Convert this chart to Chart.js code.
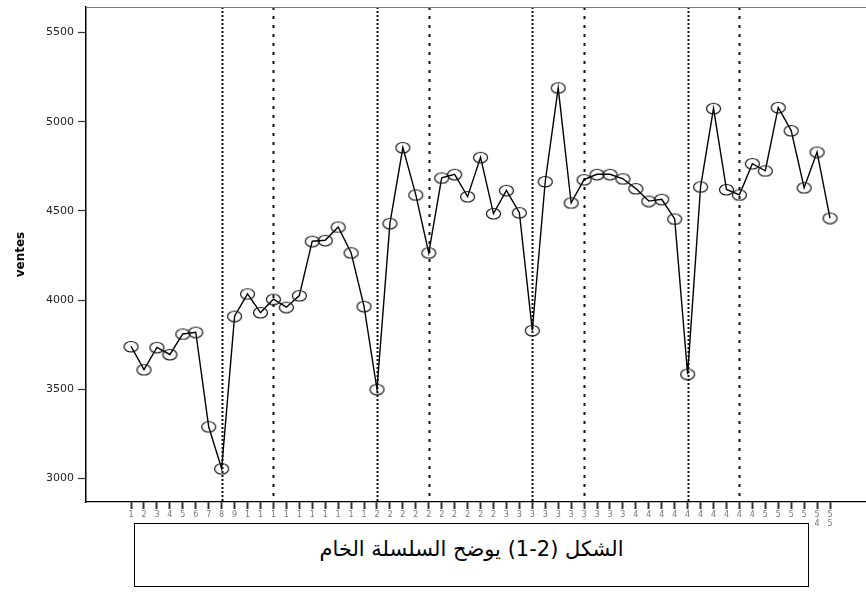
<!DOCTYPE html>
<html>
<head>
<meta charset="utf-8">
<script src="https://cdn.jsdelivr.net/npm/chart.js@4.4.1/dist/chart.umd.min.js"></script>
<style>
  html, body { margin: 0; padding: 0; background: #fff; overflow: hidden; }
  #wrap { position: relative; width: 866px; height: 594px; overflow: hidden; }
  #c { position: absolute; left: 0; top: 0; }
  #caption {
    position: absolute; left: 134px; top: 523px; width: 675px; height: 64px;
    border: 1.5px solid #000; background: #fff; box-sizing: border-box;
    padding-top: 12px; text-align: center;
  }
  #caption span {
    display: inline-block;
    font-family: "DejaVu Sans", sans-serif; font-size: 21px; line-height: 26px;
    direction: rtl;
  }
</style>
</head>
<body>
<div id="wrap">
  <canvas id="c" width="866" height="594"></canvas>
  <div id="caption"><span>الشكل (2-1) يوضح السلسلة الخام</span></div>
</div>
<script>
// ---- data ----
const periods = [1,2,3,4,5,6,7,8,9,10,11,12,13,14,15,16,17,18,19,20,21,22,23,24,25,26,27,28,29,30,31,32,33,34,35,36,37,38,39,40,41,42,43,44,45,46,47,48,49,50,51,52,53,54,55];
const ventes = [3740,3610,3735,3695,3810,3820,3290,3055,3910,4035,3930,4005,3960,4025,4330,4335,4410,4265,3965,3500,4430,4855,4590,4265,4685,4705,4580,4800,4485,4615,4490,3830,4665,5190,4545,4675,4705,4705,4680,4625,4555,4565,4455,3585,4635,5075,4620,4590,4765,4725,5080,4950,4630,4830,4460];
const xTickLabels = ['1','2','3','4','5','6','7','8','9','1','1','1','1','1','1','1','1','1','1','2','2','2','2','2','2','2','2','2','2','3','3','3','3','3','3','3','3','3','3','4','4','4','4','4','4','4','4','4','4','5','5','5','5',['5','4'],['5','5']];
const yTickValues = [3000,3500,4000,4500,5000,5500];
const dottedRefs = [8,20,32,44];
const dashedRefs = [12,24,36,48];

// ellipse marker
function makeEllipse(w, h) {
  const cv = document.createElement('canvas');
  cv.width = w + 3; cv.height = h + 3;
  const g = cv.getContext('2d');
  g.strokeStyle = '#111'; g.lineWidth = 1.2;
  g.beginPath();
  g.ellipse((w + 3) / 2, (h + 3) / 2, w / 2, h / 2, 0, 0, Math.PI * 2);
  g.stroke();
  return cv;
}
const marker = makeEllipse(14, 10.5);

const refLines = {
  id: 'refLines',
  beforeDatasetsDraw(chart) {
    const { ctx, chartArea, scales } = chart;
    ctx.save();
    ctx.strokeStyle = '#111';
    const drawLine = (v, dash, w) => {
      const x = Math.round(scales.x.getPixelForValue(v)) + 0.5;
      ctx.setLineDash(dash);
      ctx.lineWidth = w;
      ctx.beginPath();
      ctx.moveTo(x, chartArea.top);
      ctx.lineTo(x, chartArea.bottom);
      ctx.stroke();
    };
    dottedRefs.forEach(v => drawLine(v, [2, 2], 2));
    dashedRefs.forEach(v => drawLine(v, [3, 6], 2));
    ctx.setLineDash([]);
    ctx.strokeStyle = '#777';
    ctx.lineWidth = 1;
    ctx.beginPath();
    ctx.moveTo(chartArea.left, chartArea.top + 0.5);
    ctx.lineTo(chartArea.right, chartArea.top + 0.5);
    ctx.stroke();
    ctx.restore();
  }
};

new Chart(document.getElementById('c'), {
  type: 'line',
  data: {
    datasets: [{
      data: periods.map((p, i) => ({ x: p, y: ventes[i] })),
      borderColor: '#000',
      borderWidth: 1.4,
      tension: 0,
      fill: false,
      pointStyle: marker,
      pointRadius: 7,
      pointHoverRadius: 7
    }]
  },
  options: {
    responsive: false,
    animation: false,
    devicePixelRatio: 1,
    layout: { autoPadding: false, padding: { top: 7, right: 0, left: 0, bottom: 0 } },
    plugins: { legend: { display: false }, tooltip: { enabled: false } },
    scales: {
      x: {
        type: 'linear',
        min: -2.48,
        max: 57.78,
        afterBuildTicks: s => { s.ticks = periods.map(p => ({ value: p })); },
        afterFit: s => { s.height = 92; s.paddingLeft = 0; s.paddingRight = 0; },
        grid: { drawOnChartArea: false, drawTicks: true, tickLength: 7, tickWidth: 2, tickColor: '#333' },
        border: { display: true, color: '#000', width: 1.2 },
        ticks: {
          autoSkip: false, maxRotation: 0, minRotation: 0, padding: 1,
          color: '#777',
          font: { family: 'DejaVu Sans', size: 8 },
          callback: (v) => xTickLabels[v - 1]
        }
      },
      y: {
        min: 2868,
        max: 5643,
        afterBuildTicks: s => { s.ticks = yTickValues.map(v => ({ value: v })); },
        afterFit: s => { s.width = 86; s.paddingTop = 0; s.paddingBottom = 0; },
        grid: { drawOnChartArea: false, drawTicks: true, tickLength: 8, tickWidth: 1.2, tickColor: '#333' },
        border: { display: true, color: '#000', width: 1.5 },
        ticks: {
          padding: 4,
          color: '#222',
          font: { family: 'DejaVu Sans', size: 11 },
          callback: v => String(v)
        },
        title: {
          display: true, text: 'ventes', color: '#000',
          font: { family: 'DejaVu Sans', size: 12, weight: 'bold' },
          padding: { top: 14, bottom: 0 }
        }
      }
    }
  },
  plugins: [refLines]
});
</script>
</body>
</html>
